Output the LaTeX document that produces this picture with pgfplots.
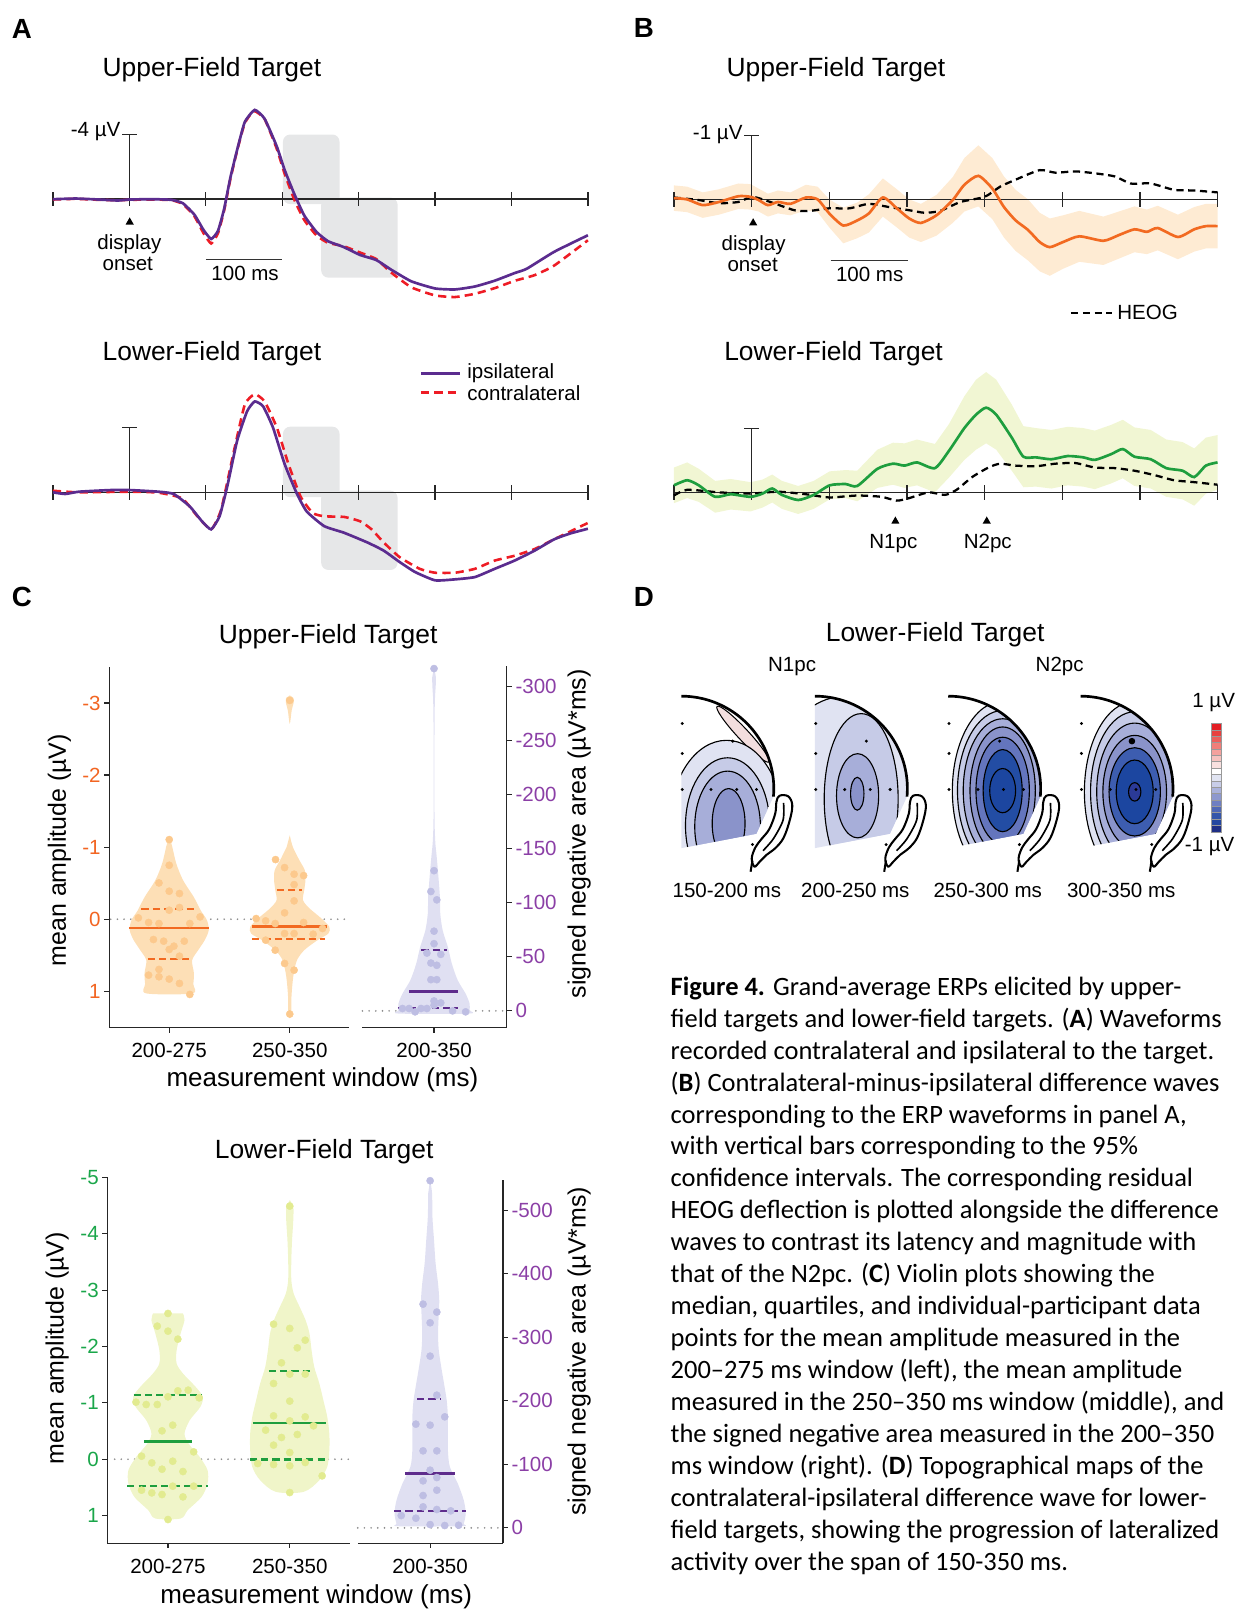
\documentclass[border=0pt]{standalone}
\usepackage{fontspec}
\setmainfont{Liberation Sans}
\newfontfamily\capfont{Carlito}
\usepackage{pgfplots}
\usepackage{pgfplotstable}
\pgfplotsset{compat=1.18}

\definecolor{ipsi}{HTML}{5B2C8F}
\definecolor{contra}{HTML}{EE1C25}
\definecolor{gbox}{HTML}{E6E7E8}
\definecolor{orl}{HTML}{F26A21}
\definecolor{orband}{HTML}{FEEBD3}
\definecolor{grl}{HTML}{1E9E3E}
\definecolor{grband}{HTML}{F1F6D3}
\definecolor{vorf}{HTML}{FDDFB6}
\definecolor{vord}{HTML}{FCC98D}
\definecolor{vgrf}{HTML}{F0F5C9}
\definecolor{vgrd}{HTML}{E2EB90}
\definecolor{vpuf}{HTML}{E0E0F2}
\definecolor{vpud}{HTML}{BEBEE3}
\definecolor{pul}{HTML}{5E2C8C}
\definecolor{putk}{HTML}{8B3FA6}
\definecolor{ortk}{HTML}{F26522}
\definecolor{grtk}{HTML}{1AA64A}
\definecolor{dotg}{HTML}{8C8C8C}
\definecolor{tA}{HTML}{E0E3F2}
\definecolor{tB}{HTML}{C6CBE7}
\definecolor{tC}{HTML}{A7AED9}
\definecolor{tD}{HTML}{8A93CA}
\definecolor{tE}{HTML}{6475BD}
\definecolor{tF}{HTML}{3D5DB0}
\definecolor{tG}{HTML}{234DA4}
\definecolor{tH}{HTML}{1C46A0}
\definecolor{tI}{HTML}{2B3A97}
\definecolor{tpink}{HTML}{F3DEDE}

\tikzset{
 lab/.style={font=\fontsize{20}{24}\selectfont, inner sep=0pt},
 ttl/.style={font=\fontsize{25.7}{30}\selectfont, inner sep=0pt},
 plab/.style={font=\bfseries\fontsize{27}{32}\selectfont, inner sep=0pt},
 ylab/.style={font=\fontsize{24.3}{28}\selectfont, inner sep=0pt, rotate=90},
 xlab/.style={font=\fontsize{25.3}{29}\selectfont, inner sep=0pt},
 axl/.style={line width=1.4pt, black!85},
 tk/.style={line width=1.2pt, black!85},
}
\pgfplotsset{
 wave/.style={scale only axis, hide axis, clip=false, y dir=reverse, xmin=-100, xmax=600, anchor=origin},
 vio/.style={scale only axis, clip=false, y dir=reverse, anchor=origin, axis x line=none, xtick=\empty,
   tick align=outside, major tick length=5pt, tick style={line width=1.1pt, black!85},
   axis line style={line width=1.3pt, black!85}, yticklabel style={font=\fontsize{20}{24}\selectfont}},
 med/.style={line width=2.6pt},
 qrt/.style={line width=2.2pt, dash pattern=on 7pt off 4pt},
 zer/.style={dotg, line width=1.8pt, dash pattern=on 0pt off 6.5pt, line cap=round},
 pts/.style={only marks, mark=*, mark size=3.5pt},
}

% ---------- Panel A data (time ms, amplitude uV; negative up) ----------
\pgfplotstableread{
t v
-100 0
-70 -0.04
-40 0.02
-15 0.08
0 0.02
30 0
55 0.04
70 0.25
85 0.95
97 1.9
107 2.46
116 1.95
124 0.6
132 -1.3
141 -3.05
151 -4.77
164 -5.52
177 -4.97
193 -3.25
203 -1.83
216 -0.3
229 1.02
245 2.03
260 2.6
280 2.95
302 3.45
323 3.76
343 4.37
369 5.08
400 5.52
426 5.58
452 5.4
478 5.04
504 4.57
520 4.3
556 3.25
600 2.23
}\AupI
\pgfplotstableread{
t v
-100 0.02
-70 -0.02
-40 0.04
-15 0.06
0 0.04
30 0.02
55 0.06
70 0.3
85 1.05
97 2.1
107 2.74
116 2.1
124 0.7
132 -1.2
141 -3.0
151 -4.7
163 -5.45
177 -4.95
193 -3.1
203 -1.6
216 0.05
229 1.3
245 2.25
260 2.7
280 2.9
302 3.3
323 3.7
343 4.55
369 5.45
400 5.95
426 6.05
452 5.85
478 5.5
504 5.05
530 4.7
556 4.1
600 2.54
}\AupC
\pgfplotstableread{
t v
-100 0
-84 0.1
-66 -0.04
-25 -0.14
1 -0.14
38 -0.04
58 0.1
79 0.87
95 1.79
107 2.29
118 1.48
128 -0.35
141 -3.19
154 -5.01
164 -5.62
175 -5.32
188 -4.0
203 -1.77
219 0.06
232 1.18
255 2.09
281 2.5
312 3.11
333 3.61
354 4.32
374 4.93
400 5.44
426 5.38
452 5.24
478 4.73
504 4.22
530 3.61
556 2.9
577 2.54
600 2.25
}\AloI
\pgfplotstableread{
t v
-100 -0.1
-66 0
1 -0.04
38 0.02
69 0.37
89 1.48
107 2.29
120 1.08
136 -2.38
151 -5.42
164 -6.07
177 -5.62
193 -4.0
208 -1.77
224 0.26
240 1.28
255 1.48
281 1.52
302 1.79
317 2.29
333 3.11
354 4.02
380 4.73
400 4.97
426 4.97
452 4.73
478 4.22
504 3.92
530 3.51
556 2.9
600 1.89
}\AloC

% ---------- Panel B data (t, difference wave, 95% CI lower/upper) ----------
\pgfplotstableread{
t v lo hi
-100 -0.02 -0.22 0.18
-83 0 -0.2 0.2
-63 0.09 -0.11 0.29
-42 0.04 -0.16 0.24
-17 -0.05 -0.25 0.15
-1.5 -0.04 -0.24 0.16
9 0.01 -0.17 0.19
21 0.09 -0.09 0.27
34 0.04 -0.14 0.22
50 0.07 -0.11 0.25
70 -0.03 -0.23 0.17
85 0 -0.2 0.2
100 0.22 0 0.44
118 0.41 0.13 0.69
136 0.33 0.05 0.61
151 0.22 -0.08 0.52
169 -0.03 -0.33 0.27
187 0.14 -0.16 0.44
203 0.3 0 0.6
218 0.37 0.07 0.67
238 0.25 -0.07 0.57
259 0.01 -0.35 0.37
274 -0.23 -0.65 0.19
292 -0.37 -0.85 0.11
310 -0.17 -0.65 0.31
325 0.12 -0.36 0.6
340 0.33 -0.15 0.81
356 0.48 0 0.96
371 0.67 0.21 1.13
384 0.75 0.3 1.2
401 0.67 0.25 1.09
422 0.58 0.18 0.98
453 0.65 0.27 1.03
473 0.56 0.19 0.93
493 0.47 0.11 0.83
509 0.51 0.16 0.86
523 0.45 0.1 0.8
549 0.59 0.24 0.94
570 0.47 0.12 0.82
585 0.42 0.07 0.77
600 0.42 0.07 0.77
}\Bor
\pgfplotstableread{
t v
-100 -0.03
-68 0.01
-42 0.06
-17 0.04
1 -0.04
24 0.04
55 0.17
75 0.18
100 0.14
126 0.14
151 0.07
177 0.12
203 0.17
223 0.21
243 0.18
269 0.04
300 -0.04
320 -0.2
340 -0.31
371 -0.46
391 -0.42
417 -0.44
442 -0.41
468 -0.36
488 -0.25
514 -0.25
544 -0.15
570 -0.14
600 -0.11
}\Bheu
\pgfplotstableread{
t v lo hi
-100 -0.11 -0.39 0.17
-83 -0.19 -0.47 0.09
-68 -0.11 -0.37 0.15
-47 0.07 -0.18 0.32
-27 0.03 -0.21 0.27
-1.5 0.07 -0.16 0.3
14 0.02 -0.2 0.24
26.5 -0.06 -0.28 0.16
39 0.04 -0.18 0.26
60 0.12 -0.1 0.34
80 0.04 -0.18 0.26
100.5 -0.11 -0.33 0.11
121 -0.13 -0.35 0.09
136 -0.1 -0.34 0.14
162 -0.37 -0.67 -0.07
182 -0.45 -0.78 -0.12
197 -0.42 -0.77 -0.07
213 -0.47 -0.83 -0.11
236 -0.38 -0.76 0
254 -0.65 -1.07 -0.23
274 -1.01 -1.51 -0.51
289 -1.22 -1.77 -0.67
302 -1.33 -1.89 -0.77
315 -1.22 -1.77 -0.67
335 -0.86 -1.38 -0.34
350 -0.56 -1.04 -0.08
366 -0.55 -1.01 -0.09
386 -0.52 -0.98 -0.06
407 -0.57 -1.03 -0.11
427 -0.55 -1.01 -0.09
442 -0.51 -0.97 -0.05
463 -0.6 -1.06 -0.14
478 -0.68 -1.14 -0.22
493 -0.56 -1.02 -0.1
514 -0.52 -0.98 -0.06
534 -0.38 -0.83 0.07
555 -0.34 -0.79 0.11
570 -0.24 -0.69 0.21
585 -0.42 -0.86 0.02
600 -0.47 -0.9 -0.04
}\Bgr
\pgfplotstableread{
t v
-100 0.05
-83 -0.04
-42 0
-1.5 0.02
34 -0.01
70 0.03
100 0.08
136 0.05
167 0.07
187 0.13
203 0.09
228 0
249 0.04
264 -0.04
284 -0.24
305 -0.39
320 -0.45
340 -0.42
366 -0.41
391 -0.45
417 -0.46
442 -0.39
468 -0.38
493 -0.34
519 -0.27
544 -0.19
570 -0.16
600 -0.12
}\Bhel

\newcommand{\headarc}{(0,0) arc[start angle=90, end angle=-5, radius=90]}
\newcommand{\headregion}{(0,0) arc[start angle=90, end angle=-5, radius=90] -- (73,-134) -- (0,-148) -- cycle}
\newcommand{\earshape}{%
  \filldraw[fill=white, draw=black, line width=2pt] plot[smooth cycle, tension=0.6] coordinates {(95.5,-97) (104,-97.5) (108,-106.2) (105.5,-121) (99.5,-138) (91.5,-148) (83,-154.5) (76,-161.5) (71.2,-166) (68.5,-158.1) (72,-147.4) (77.9,-139.3) (85.6,-129.5) (91.4,-114.3) (92.6,-102.9)};
  \draw[line width=1.6pt] plot[smooth] coordinates {(99.5,-104) (99,-120.8) (89.5,-139) (79.5,-150.5)};
  \draw[line width=2pt] (69.2,-160) -- (67.4,-171);
  \draw[line width=2.6pt] \headarc;}
\newcommand{\elec}{\foreach \p in {(0.8,-26.6),(0.8,-55.8),(0.8,-90.9),(28.9,-90.9),(53.9,-90.9),(73.2,-90.9),(50,-43.8),(69.3,-144.5)} {\fill \p circle[radius=1.6];}}
\newcommand{\ring}[5]{\filldraw[fill=#5, draw=black, line width=1.1pt] (#1,-#2) ellipse[x radius=#3, y radius=#4];}

\begin{document}
\begin{tikzpicture}
\path[use as bounding box] (0pt,0pt) rectangle (1203pt,-1568pt);

% ================= Panel A =================
\begin{axis}[wave, at={(126pt,-194pt)}, width=521pt, height=236.25pt, ymin=-7, ymax=8]
\fill[gbox, rounded corners=7pt] (axis cs:201,-4) rectangle (axis cs:275,0.3);
\fill[gbox, rounded corners=7pt] (axis cs:251,-0.1) rectangle (axis cs:351,4.85);
\draw[axl] (axis cs:-100,0) -- (axis cs:600,0);
\pgfplotsinvokeforeach{-100,0,100,200,300,400,500,600}{\draw[tk] (axis cs:#1,0) ++(0pt,7pt) -- ++(0pt,-14pt);}
\draw[tk] (axis cs:0,0) -- (axis cs:0,-4) ++(-7pt,0pt) -- ++(14pt,0pt);
\addplot[contra, line width=2.5pt, dash pattern=on 8pt off 5pt, smooth, tension=0.3] table {\AupC};
\addplot[ipsi, line width=2.6pt, smooth, tension=0.3] table {\AupI};
\end{axis}

\begin{axis}[wave, at={(126pt,-479.5pt)}, width=521pt, height=236.25pt, ymin=-7, ymax=8]
\fill[gbox, rounded corners=7pt] (axis cs:201,-4.06) rectangle (axis cs:275,0.3);
\fill[gbox, rounded corners=7pt] (axis cs:251,-0.1) rectangle (axis cs:351,4.8);
\draw[axl] (axis cs:-100,0) -- (axis cs:600,0);
\pgfplotsinvokeforeach{-100,0,100,200,300,400,500,600}{\draw[tk] (axis cs:#1,0) ++(0pt,7pt) -- ++(0pt,-14pt);}
\draw[tk] (axis cs:0,0) -- (axis cs:0,-4) ++(-7pt,0pt) -- ++(14pt,0pt);
\addplot[contra, line width=2.5pt, dash pattern=on 8pt off 5pt, smooth, tension=0.3] table {\AloC};
\addplot[ipsi, line width=2.6pt, smooth, tension=0.3] table {\AloI};
\end{axis}

% ================= Panel B =================
\begin{axis}[wave, at={(732pt,-194.2pt)}, width=529.4pt, height=173.6pt, ymin=-1.5, ymax=1.3]
\addplot[fill=orband, draw=none] coordinates {(-100,-0.22) (-83,-0.2) (-63,-0.11) (-42,-0.16) (-17,-0.25) (-1.5,-0.24) (9,-0.17) (21,-0.09) (34,-0.14) (50,-0.11) (70,-0.23) (85,-0.2) (100,0) (118,0.13) (136,0.05) (151,-0.08) (169,-0.33) (187,-0.16) (203,0) (218,0.07) (238,-0.07) (259,-0.35) (274,-0.65) (292,-0.85) (310,-0.65) (325,-0.36) (340,-0.15) (356,0) (371,0.21) (384,0.3) (401,0.25) (422,0.18) (453,0.27) (473,0.19) (493,0.11) (509,0.16) (523,0.1) (549,0.24) (570,0.12) (585,0.07) (600,0.07)
 (600,0.77) (585,0.77) (570,0.82) (549,0.94) (523,0.8) (509,0.86) (493,0.83) (473,0.93) (453,1.03) (422,0.98) (401,1.09) (384,1.2) (371,1.13) (356,0.96) (340,0.81) (325,0.6) (310,0.31) (292,0.11) (274,0.19) (259,0.37) (238,0.57) (218,0.67) (203,0.6) (187,0.44) (169,0.27) (151,0.52) (136,0.61) (118,0.69) (100,0.44) (85,0.2) (70,0.17) (50,0.25) (34,0.22) (21,0.27) (9,0.19) (-1.5,0.16) (-17,0.15) (-42,0.24) (-63,0.29) (-83,0.2) (-100,0.18)} -- cycle;
\draw[axl] (axis cs:-100,0) -- (axis cs:600,0);
\pgfplotsinvokeforeach{-100,0,100,200,300,400,500,600}{\draw[tk] (axis cs:#1,0) ++(0pt,7pt) -- ++(0pt,-14pt);}
\draw[tk] (axis cs:0,0) -- (axis cs:0,-1) ++(-7pt,0pt) -- ++(14pt,0pt);
\addplot[black, line width=2.2pt, dash pattern=on 7pt off 4.5pt, smooth, tension=0.4] table {\Bheu};
\addplot[orl, line width=2.6pt, smooth, tension=0.4] table[x=t, y=v] {\Bor};
\end{axis}

\begin{axis}[wave, at={(732pt,-479.5pt)}, width=529.4pt, height=173.6pt, ymin=-2, ymax=0.8]
\addplot[fill=grband, draw=none] coordinates {(-100,-0.39) (-83,-0.47) (-68,-0.37) (-47,-0.18) (-27,-0.21) (-1.5,-0.16) (14,-0.2) (26.5,-0.28) (39,-0.18) (60,-0.1) (80,-0.18) (100.5,-0.33) (121,-0.35) (136,-0.34) (162,-0.67) (182,-0.78) (197,-0.77) (213,-0.83) (236,-0.76) (254,-1.07) (274,-1.51) (289,-1.77) (302,-1.89) (315,-1.77) (335,-1.38) (350,-1.04) (366,-1.01) (386,-0.98) (407,-1.03) (427,-1.01) (442,-0.97) (463,-1.06) (478,-1.14) (493,-1.02) (514,-0.98) (534,-0.83) (555,-0.79) (570,-0.69) (585,-0.86) (600,-0.9)
 (600,-0.04) (585,0.02) (570,0.21) (555,0.11) (534,0.07) (514,-0.06) (493,-0.1) (478,-0.22) (463,-0.14) (442,-0.05) (427,-0.09) (407,-0.11) (386,-0.06) (366,-0.09) (350,-0.08) (335,-0.34) (315,-0.67) (302,-0.77) (289,-0.67) (274,-0.51) (254,-0.23) (236,0) (213,-0.11) (197,-0.07) (182,-0.12) (162,-0.07) (136,0.14) (121,0.09) (100.5,0.11) (80,0.26) (60,0.34) (39,0.26) (26.5,0.16) (14,0.24) (-1.5,0.3) (-27,0.27) (-47,0.32) (-68,0.15) (-83,0.09) (-100,0.17)} -- cycle;
\draw[axl] (axis cs:-100,0) -- (axis cs:600,0);
\pgfplotsinvokeforeach{-100,0,100,200,300,400,500,600}{\draw[tk] (axis cs:#1,0) ++(0pt,7pt) -- ++(0pt,-14pt);}
\draw[tk] (axis cs:0,0) -- (axis cs:0,-1) ++(-7pt,0pt) -- ++(14pt,0pt);
\addplot[black, line width=2.2pt, dash pattern=on 7pt off 4.5pt, smooth, tension=0.4] table {\Bhel};
\addplot[grl, line width=2.6pt, smooth, tension=0.4] table[x=t, y=v] {\Bgr};
\end{axis}

% ================= Panel C upper =================
\begin{axis}[vio, at={(164.8pt,-895.2pt)}, width=233.4pt, height=350.8pt,
  xmin=-0.496, xmax=1.492, ymin=-3.493, ymax=1.504, axis y line*=left,
  ytick={-3,-2,-1,0,1}, yticklabels={-3,-2,-1,0,1}, yticklabel style={text=ortk}]
\addplot[zer] coordinates {(-0.485,0) (1.483,0)};
\addplot[fill=vorf, draw=none, smooth, tension=0.5] coordinates {(0,-1.16) (0.026,-1.0) (0.059,-0.77) (0.115,-0.54) (0.203,-0.31) (0.262,-0.12) (0.312,0.01) (0.328,0.15) (0.295,0.29) (0.24,0.43) (0.19,0.57) (0.205,0.75) (0.2,0.9) (0.19,1.03) (-0.19,1.03) (-0.2,0.9) (-0.205,0.75) (-0.19,0.57) (-0.24,0.43) (-0.295,0.29) (-0.328,0.15) (-0.312,0.01) (-0.262,-0.12) (-0.203,-0.31) (-0.115,-0.54) (-0.059,-0.77) (-0.026,-1.0)} -- cycle;
\addplot[fill=vorf, draw=none, smooth, tension=0.5] coordinates {(1,-1.164) (1.026,-1.0) (1.08,-0.818) (1.125,-0.679) (1.13,-0.54) (1.12,-0.402) (1.11,-0.263) (1.165,-0.148) (1.26,-0.014) (1.328,0.106) (1.32,0.199) (1.23,0.291) (1.12,0.43) (1.06,0.568) (1.033,0.753) (1.02,0.938) (1.013,1.122) (1.013,1.307) (1,1.376) (0.987,1.307) (0.987,1.122) (0.98,0.938) (0.967,0.753) (0.94,0.568) (0.88,0.43) (0.77,0.291) (0.68,0.199) (0.672,0.106) (0.74,-0.014) (0.835,-0.148) (0.89,-0.263) (0.88,-0.402) (0.87,-0.54) (0.875,-0.679) (0.92,-0.818) (0.974,-1.0)} -- cycle;
\addplot[fill=vorf, draw=none, smooth, tension=0.5] coordinates {(1,-3.104) (1.03,-3.07) (1.033,-3.01) (1.016,-2.896) (1,-2.71) (0.984,-2.896) (0.967,-3.01) (0.97,-3.07)} -- cycle;
\addplot[pts, vord] coordinates {(0,-1.104) (0,-0.748) (-0.085,-0.503) (0,-0.388) (0.085,-0.356) (0.085,-0.162) (0,-0.125) (-0.256,-0.018) (-0.171,0.046) (-0.085,0.06) (0.256,-0.032) (0.171,0.06) (-0.131,0.282) (-0.046,0.305) (0.125,0.305) (0.039,0.374) (0,0.42) (0.085,0.513) (-0.085,0.697) (-0.171,0.776) (-0.085,0.799) (0,0.831) (0.085,0.891) (0.171,1.044)
 (0.882,-0.827) (0.957,-0.716) (1.036,-0.624) (1.115,-0.605) (1.036,-0.48) (1.036,-0.254) (0.957,-0.088) (0.721,-0.009) (0.8,0.023) (0.879,0.06) (1.115,0.046) (1.272,0.129) (1.036,0.199) (0.957,0.199) (1.194,0.208) (0.8,0.291) (0.879,0.43) (0.957,0.614) (1.036,0.707) (1,1.316) (1,-3.035)};
\addplot[orl, med] coordinates {(-0.335,0.12) (0.328,0.12)};
\addplot[orl, qrt] coordinates {(-0.23,-0.14) (0.21,-0.14)};
\addplot[orl, qrt] coordinates {(-0.177,0.55) (0.17,0.55)};
\addplot[orl, med] coordinates {(0.688,0.097) (1.305,0.097)};
\addplot[orl, qrt] coordinates {(0.892,-0.402) (1.105,-0.402)};
\addplot[orl, qrt] coordinates {(0.688,0.277) (1.292,0.277)};
\draw[axl] (axis cs:-0.496,1.504) -- (axis cs:1.492,1.504);
\draw[tk] (axis cs:0,1.504) -- ++(0pt,-5pt);
\draw[tk] (axis cs:1,1.504) -- ++(0pt,-5pt);
\end{axis}

\begin{axis}[vio, at={(422.7pt,-984.5pt)}, width=140.6pt, height=352pt,
  xmin=-0.594, xmax=0.604, ymin=-319.1, ymax=15.5, axis y line*=right,
  ytick={-300,-250,-200,-150,-100,-50,0}, yticklabels={-300,-250,-200,-150,-100,-50,0}, yticklabel style={text=putk}]
\addplot[zer] coordinates {(-0.594,0) (0.597,0)};
\addplot[fill=vpuf, draw=none, smooth, tension=0.5] coordinates {(0,-318.2) (0.016,-308.3) (0.013,-299.1) (0.007,-286.8) (0.004,-259.1) (0.004,-182.2) (0.01,-157.5) (0.02,-145.2) (0.03,-132.9) (0.039,-120.6) (0.049,-105.2) (0.052,-89.8) (0.072,-74.5) (0.115,-59.1) (0.148,-43.7) (0.197,-28.3) (0.262,-16) (0.295,-6.8) (0.295,-0.6) (0.29,2.5) (-0.29,2.5) (-0.295,-0.6) (-0.295,-6.8) (-0.262,-16) (-0.197,-28.3) (-0.148,-43.7) (-0.115,-59.1) (-0.072,-74.5) (-0.052,-89.8) (-0.049,-105.2) (-0.039,-120.6) (-0.03,-132.9) (-0.02,-145.2) (-0.01,-157.5) (-0.004,-182.2) (-0.004,-259.1) (-0.007,-286.8) (-0.013,-299.1) (-0.016,-308.3)} -- cycle;
\addplot[pts, vpud] coordinates {(0,-316.9) (0,-129.8) (-0.026,-110.5) (0.023,-102.8) (0,-73.8) (0,-62.2) (-0.059,-53.5) (0.056,-52.3) (-0.026,-44.3) (0.023,-42.2) (-0.026,-28.9) (0.023,-28.9) (0,-9.2) (0.056,-7.4) (-0.262,-2.2) (-0.207,-2.2) (-0.157,0.9) (-0.108,-2.2) (-0.059,-2.2) (0.154,0) (0.262,0.9) (0,-5.2)};
\addplot[pul, med] coordinates {(-0.207,-18.2) (0.203,-18.2)};
\addplot[pul, qrt] coordinates {(-0.105,-56.6) (0.105,-56.6)};
\addplot[pul, qrt] coordinates {(-0.3,-2.8) (0.203,-2.8)};
\draw[axl] (axis cs:-0.594,15.5) -- (axis cs:0.604,15.5);
\draw[tk] (axis cs:0,15.5) -- ++(0pt,-5pt);
\end{axis}

% ================= Panel C lower =================
\begin{axis}[vio, at={(163.6pt,-1421.1pt)}, width=236pt, height=356.3pt,
  xmin=-0.497, xmax=1.493, ymin=-5, ymax=1.492, axis y line*=left,
  ytick={-5,-4,-3,-2,-1,0,1}, yticklabels={-5,-4,-3,-2,-1,0,1}, yticklabel style={text=grtk}]
\addplot[zer] coordinates {(-0.438,0) (1.493,0)};
\addplot[fill=vgrf, draw=none, smooth, tension=0.5] coordinates {(0.123,-2.586) (0.136,-2.467) (0.104,-2.231) (0.071,-1.935) (0.071,-1.698) (0.123,-1.521) (0.227,-1.284) (0.286,-1.107) (0.266,-0.929) (0.179,-0.692) (0.136,-0.456) (0.169,-0.278) (0.26,-0.041) (0.325,0.195) (0.325,0.432) (0.276,0.669) (0.162,0.905) (0.104,1.053) (-0.104,1.053) (-0.162,0.905) (-0.276,0.669) (-0.325,0.432) (-0.325,0.195) (-0.26,-0.041) (-0.169,-0.278) (-0.136,-0.456) (-0.179,-0.692) (-0.266,-0.929) (-0.286,-1.107) (-0.227,-1.284) (-0.123,-1.521) (-0.071,-1.698) (-0.071,-1.935) (-0.104,-2.231) (-0.136,-2.467) (-0.123,-2.586)} -- cycle;
\addplot[fill=vgrf, draw=none, smooth, tension=0.5] coordinates {(1,-4.598) (1.029,-4.48) (1.029,-4.24) (1.019,-3.888) (1.013,-3.533) (1.013,-3.178) (1.032,-2.941) (1.081,-2.704) (1.13,-2.467) (1.162,-2.231) (1.179,-1.935) (1.201,-1.639) (1.243,-1.343) (1.276,-1.047) (1.308,-0.751) (1.325,-0.456) (1.325,-0.16) (1.308,0.136) (1.243,0.373) (1.114,0.58) (0.886,0.58) (0.757,0.373) (0.692,0.136) (0.675,-0.16) (0.675,-0.456) (0.692,-0.751) (0.724,-1.047) (0.757,-1.343) (0.799,-1.639) (0.821,-1.935) (0.838,-2.231) (0.87,-2.467) (0.919,-2.704) (0.968,-2.941) (0.987,-3.178) (0.987,-3.533) (0.981,-3.888) (0.971,-4.24) (0.971,-4.48)} -- cycle;
\addplot[pts, vgrd] coordinates {(0,-2.586) (-0.088,-2.361) (0,-2.272) (0.081,-2.13) (0.081,-1.213) (0.166,-1.225) (0,-1.107) (0.256,-1.089) (-0.263,-1.012) (-0.179,-0.97) (-0.088,-0.97) (0.039,-0.604) (-0.049,-0.503) (0.211,-0.13) (-0.217,-0.053) (-0.133,0.065) (0.039,0.036) (-0.049,0.178) (0.123,0.219) (0.039,0.479) (0.211,0.479) (-0.217,0.55) (-0.133,0.598) (-0.049,0.627) (0.123,0.669) (0,1.071)
 (1,-4.491) (0.867,-2.396) (1,-2.32) (1.127,-2.112) (1.062,-1.976) (0.932,-1.71) (0.867,-1.343) (1,-1.509) (1.127,-1.509) (1,-1.03) (0.867,-0.769) (1.127,-0.751) (1,-0.68) (1.195,-0.592) (0.802,-0.515) (0.932,-0.385) (1.062,-0.438) (0.867,-0.249) (1,-0.118) (0.737,0.077) (0.867,0.095) (1,0.118) (1.127,0.059) (1.266,0.296) (1,0.592)};
\addplot[grl, med] coordinates {(-0.195,-0.318) (0.195,-0.318)};
\addplot[grl, qrt] coordinates {(-0.282,-1.136) (0.282,-1.136)};
\addplot[grl, qrt] coordinates {(-0.334,0.473) (0.331,0.473)};
\addplot[grl, med] coordinates {(0.698,-0.645) (1.299,-0.645)};
\addplot[grl, qrt] coordinates {(0.828,-1.562) (1.169,-1.562)};
\addplot[grl, qrt] coordinates {(0.672,0.006) (1.315,0.006)};
\draw[axl] (axis cs:-0.497,1.492) -- (axis cs:1.493,1.492);
\draw[tk] (axis cs:0,1.492) -- ++(0pt,-5pt);
\draw[tk] (axis cs:1,1.492) -- ++(0pt,-5pt);
\end{axis}

\begin{axis}[vio, at={(418.9pt,-1488pt)}, width=141.3pt, height=353.7pt,
  xmin=-0.594, xmax=0.597, ymin=-547.2, ymax=24.2, axis y line*=right,
  ytick={-500,-400,-300,-200,-100,0}, yticklabels={-500,-400,-300,-200,-100,0}, yticklabel style={text=putk}]
\addplot[zer] coordinates {(-0.594,0) (0.584,0)};
\addplot[fill=vpuf, draw=none, smooth, tension=0.5] coordinates {(0,-548.3) (0.016,-526.2) (0.019,-489.5) (0.032,-452.8) (0.045,-416.1) (0.065,-384.6) (0.075,-358.3) (0.071,-337.4) (0.065,-305.9) (0.071,-279.6) (0.091,-253.4) (0.114,-227.2) (0.136,-200.9) (0.146,-174.7) (0.146,-148.5) (0.146,-122.2) (0.162,-96) (0.227,-69.8) (0.276,-43.5) (0.292,-22.6) (0.276,-6.8) (0.26,-2.6) (-0.26,-2.6) (-0.276,-6.8) (-0.292,-22.6) (-0.276,-43.5) (-0.227,-69.8) (-0.162,-96) (-0.146,-122.2) (-0.146,-148.5) (-0.146,-174.7) (-0.136,-200.9) (-0.114,-227.2) (-0.091,-253.4) (-0.071,-279.6) (-0.065,-305.9) (-0.071,-337.4) (-0.075,-358.3) (-0.065,-384.6) (-0.045,-416.1) (-0.032,-452.8) (-0.019,-489.5) (-0.016,-526.2)} -- cycle;
\addplot[pts, vpud] coordinates {(0,-546.2) (-0.058,-352) (0.055,-339.5) (0,-322.7) (0,-270.2) (0.055,-208.8) (0.12,-174.7) (-0.117,-163.2) (0,-161.6) (-0.058,-121.2) (0.055,-121.2) (0,-90.8) (-0.058,-74) (0.055,-79.2) (0.055,-59.3) (-0.058,-50.9) (-0.058,-33.1) (0.055,-28.9) (0.169,-26.8) (-0.237,-19.4) (-0.117,-15.2) (0,-5.2) (0.12,-3.7) (0.234,-4.2)};
\addplot[pul, med] coordinates {(-0.204,-85.5) (0.208,-85.5)};
\addplot[pul, qrt] coordinates {(-0.107,-202.5) (0.088,-202.5)};
\addplot[pul, qrt] coordinates {(-0.295,-26.2) (0.292,-26.2)};
\draw[axl] (axis cs:-0.594,24.2) -- (axis cs:0.597,24.2);
\draw[tk] (axis cs:0,24.2) -- ++(0pt,-5pt);
\end{axis}

% ================= Text and annotations =================
\begin{scope}[x=1pt, y=-1pt]
\node[plab] at (21.2,28.6) {A};
\node[plab] at (627,27.6) {B};
\node[plab] at (21.2,581.2) {C};
\node[plab] at (627,581.2) {D};
\node[ttl] at (206.4,68) {Upper-Field Target};
\node[ttl] at (206.4,344.1) {Lower-Field Target};
\node[ttl] at (814.1,68.2) {Upper-Field Target};
\node[ttl] at (811.8,344.8) {Lower-Field Target};
\node[ttl] at (319.6,620.2) {Upper-Field Target};
\node[ttl] at (315.7,1121.7) {Lower-Field Target};
\node[ttl] at (910.7,618.6) {Lower-Field Target};
% A annotations
\node[lab, anchor=east] at (117.4,127.8) {-4 µV};
\fill (126.3,211.7) -- (130.3,218.7) -- (122.3,218.7) -- cycle;
\node[lab] at (126,237.9) {display};
\node[lab] at (124.5,257.5) {onset};
\draw[line width=1.3pt, black!80] (200.6,253) -- (275,253);
\node[lab] at (238.7,266.5) {100 ms};
\draw[ipsi, line width=2.6pt] (410,363.6) -- (448,363.6);
\node[lab, anchor=west] at (455,363.6) {ipsilateral};
\draw[contra, line width=2.5pt, dash pattern=on 8pt off 5pt] (410,382.5) -- (448,382.5);
\node[lab, anchor=west] at (455,382.5) {contralateral};
% B annotations
\node[lab, anchor=east] at (723.3,131.5) {-1 µV};
\fill (733.5,212.5) -- (737.5,219.5) -- (729.5,219.5) -- cycle;
\node[lab] at (734,238.6) {display};
\node[lab] at (733,258) {onset};
\draw[line width=1.3pt, black!80] (809,254) -- (884,254);
\node[lab] at (847,267.5) {100 ms};
\draw[black, line width=2.2pt, dash pattern=on 7pt off 4.5pt] (1043,304.6) -- (1083,304.6);
\node[lab, anchor=west] at (1088,304.6) {HEOG};
\fill (872,503) -- (876,510) -- (868,510) -- cycle;
\fill (961,503) -- (965,510) -- (957,510) -- cycle;
\node[lab] at (870,529) {N1pc};
\node[lab] at (962,529) {N2pc};
% C labels
\node[lab] at (164.8,1022.8) {200-275};
\node[lab] at (282.2,1022.8) {250-350};
\node[lab] at (422.7,1022.8) {200-350};
\node[xlab] at (314,1052) {measurement window (ms)};
\node[ylab] at (57.8,828) {mean amplitude (µV)};
\node[ylab] at (564,812) {signed negative area (µV*ms)};
\node[lab] at (163.6,1526) {200-275};
\node[lab] at (282.2,1526) {250-350};
\node[lab] at (418.9,1526) {200-350};
\node[xlab] at (308,1555) {measurement window (ms)};
\node[ylab] at (55.8,1313) {mean amplitude (µV)};
\node[ylab] at (564,1316) {signed negative area (µV*ms)};
% D labels
\node[lab] at (771.4,649.4) {N1pc};
\node[lab] at (1032,649.4) {N2pc};
\node[lab] at (707.9,867.6) {150-200 ms};
\node[lab] at (833,867.6) {200-250 ms};
\node[lab] at (962,867.6) {250-300 ms};
\node[lab] at (1092,867.6) {300-350 ms};
\node[lab] at (1182,684.5) {1 µV};
\node[lab] at (1178,824.8) {-1 µV};
\foreach \c [count=\i from 0] in {E31E24,E8413F,EC5F5B,F07E79,F4A19D,F6C2BF,F8E0DF,FFFFFF,E1E4F2,C8CDE8,AAB2DB,8D98CE,6F7FC2,5068B6,3556AA,2447A0,1F2F86} {
  \definecolor{cc}{HTML}{\c}
  \filldraw[fill=cc, draw=black!40, line width=0.4pt] (1179.5,{704.6+6.2*\i}) rectangle (1189.1,{710.8+6.2*\i});
}
% caption
\node[anchor=north west, inner sep=0pt, align=left, font=\capfont\fontsize{25.8}{31.1}\selectfont] at (653,951) {%
\textbf{Figure 4.} Grand-average ERPs elicited by upper-\\
field targets and lower-field targets. (\textbf{A}) Waveforms\\
recorded contralateral and ipsilateral to the target.\\
(\textbf{B}) Contralateral-minus-ipsilateral difference waves\\
corresponding to the ERP waveforms in panel A,\\
with vertical bars corresponding to the 95\%\\
confidence intervals. The corresponding residual\\
HEOG deflection is plotted alongside the difference\\
waves to contrast its latency and magnitude with\\
that of the N2pc. (\textbf{C}) Violin plots showing the\\
median, quartiles, and individual-participant data\\
points for the mean amplitude measured in the\\
200–275 ms window (left), the mean amplitude\\
measured in the 250–350 ms window (middle), and\\
the signed negative area measured in the 200–350\\
ms window (right). (\textbf{D}) Topographical maps of the\\
contralateral-ipsilateral difference wave for lower-\\
field targets, showing the progression of lateralized\\
activity over the span of 150-350 ms.};
\end{scope}

% ================= Panel D topographic maps =================
\begin{scope}[shift={(663.6pt,-678pt)}, x=1pt, y=1pt]
 \begin{scope}
  \clip \headregion;
  \fill[white] (-5,5) rectangle (120,-160);
  \filldraw[fill=tpink, draw=black, line width=1pt, rotate around={-47:(60,-37)}] (60,-37) ellipse[x radius=37, y radius=5.5];
  \ring{44}{125}{55}{82}{tA}
  \ring{45}{126}{41}{66}{tB}
  \ring{45}{127}{32}{54}{tC}
  \ring{46}{124}{16}{34}{tD}
 \end{scope}
 \earshape \elec
\end{scope}
\begin{scope}[shift={(793.7pt,-678pt)}, x=1pt, y=1pt]
 \begin{scope}
  \clip \headregion;
  \fill[white] (-5,5) rectangle (120,-160);
  \ring{30}{110}{78}{110}{tA}
  \ring{45}{100}{36}{83}{tB}
  \ring{41.5}{97}{20.5}{41}{tC}
  \ring{41.2}{95}{6.5}{16}{tD}
 \end{scope}
 \earshape \elec
\end{scope}
\begin{scope}[shift={(923.5pt,-678pt)}, x=1pt, y=1pt]
 \begin{scope}
  \clip \headregion;
  \fill[white] (-5,5) rectangle (120,-160);
  \ring{53}{92}{49}{87}{tA}
  \ring{53}{92}{44}{78}{tB}
  \ring{53}{92}{38.4}{70}{tC}
  \ring{53}{92}{31.8}{62}{tD}
  \ring{53}{92}{26}{52}{tE}
  \ring{53}{92}{19}{40}{tG}
  \ring{53}{92}{12.6}{21.5}{tH}
 \end{scope}
 \earshape \elec
\end{scope}
\begin{scope}[shift={(1052.4pt,-678pt)}, x=1pt, y=1pt]
 \begin{scope}
  \clip \headregion;
  \fill[white] (-5,5) rectangle (120,-160);
  \ring{52.7}{93.2}{49}{88}{tA}
  \ring{52.7}{93.2}{43}{78}{tB}
  \ring{52.7}{93.2}{37}{67}{tC}
  \ring{52.7}{93.2}{31}{55}{tD}
  \ring{52.7}{93.2}{25}{43}{tF}
  \ring{52.7}{93.2}{18}{31}{tH}
  \ring{52.7}{93.2}{6}{9}{tI}
 \end{scope}
 \earshape \elec
 \fill (50,-43.8) circle[radius=3.2];
\end{scope}

\end{tikzpicture}
\end{document}
